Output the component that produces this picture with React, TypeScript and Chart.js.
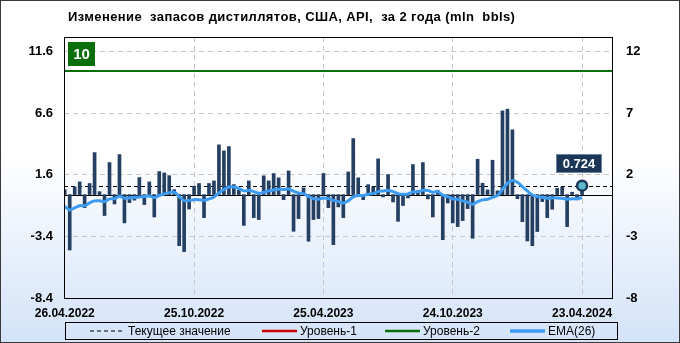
import React, { useEffect, useRef } from 'react';
import { Chart, registerables } from 'chart.js';

Chart.register(...registerables);

const TITLE = 'Изменение  запасов дистиллятов, США, API,  за 2 года (mln  bbls)';
const xTickIndex = [0, 26, 52, 78, 104];
const xTickLabels = ['26.04.2022', '25.10.2022', '25.04.2023', '24.10.2023', '23.04.2024'];
const yTicks = [-8.4, -3.4, 1.6, 6.6, 11.6];
const legendLabels = ['Текущее значение', 'Уровень-1', 'Уровень-2', 'EMA(26)'];

const changes = [
  0.4, -4.5, 0.62, 1.03, -1.06, 0.9, 3.41, 0.24, -1.7, 2.6,
  -0.76, 3.25, -2.3, -0.65, -0.45, 1.38, -0.81, 1.03, -1.82, 1.87,
  1.76, 1.54, 0.4, -4.15, -4.63, -1.17, 0.68, 0.9, -1.87, 0.9,
  1.11, 4.04, 3.55, 3.9, 0.81, 0.35, -2.5, 1.11, -1.87, -2.03,
  1.52, 1.11, 1.71, 1.36, -0.41, 1.92, -2.98, -1.95, 0.54, -3.79,
  -2.03, -1.95, 1.71, -1.06, -4.07, -1.0, -1.87, 1.84, 4.55, 1.36,
  -0.41, 0.81, 0.62, 2.9, -0.19, 1.63, -0.6, -2.17, -0.89, -0.27,
  2.44, 0.33, 2.6, -0.35, -1.82, 0.33, -3.66, -0.68, -2.3, -2.6,
  -2.11, -1.14, -3.55, 2.87, 0.92, 0.38, 2.79, 0.3, 6.8, 6.94,
  5.26, -0.33, -2.2, -3.77, -4.15, -3.0, -0.57, -1.87, -1.19, 0.51,
  0.6, -2.6, 0.19, -0.43, 0.724,
];

const ema26 = [
  -0.95, -1.25, -1.08, -0.9, -0.9, -0.68, -0.51, -0.51, -0.57, -0.35,
  -0.33, -0.14, -0.3, -0.27, -0.24, -0.19, -0.16, -0.11, -0.24, -0.08,
  0.05, 0.16, 0.19, -0.16, -0.49, -0.49, -0.41, -0.41, -0.46, -0.35,
  -0.19, 0.14, 0.41, 0.62, 0.62, 0.51, 0.3, 0.35, 0.24, 0.11,
  0.19, 0.3, 0.38, 0.43, 0.41, 0.46, 0.27, 0.14, 0.08, -0.14,
  -0.33, -0.38, -0.27, -0.33, -0.46, -0.57, -0.68, -0.51, -0.19, -0.08,
  -0.08, 0.03, 0.08, 0.24, 0.3, 0.33, 0.24, 0.08, 0.03, 0.05,
  0.22, 0.24, 0.35, 0.33, 0.19, 0.24, -0.05, -0.16, -0.35, -0.38,
  -0.51, -0.62, -0.79, -0.57, -0.43, -0.38, -0.22, -0.08, 0.43, 0.92,
  1.14, 1.0, 0.65, 0.3, -0.03, -0.16, -0.22, -0.3, -0.27, -0.27,
  -0.3, -0.38, -0.33, -0.33, -0.24,
];

const currentValue = 0.724;
const level2 = 10;

const BAR_COLOR = '#243f61';
const EMA_COLOR = '#3d9cf2';
const GREEN = '#0a6e0a';
const RED = '#cc0000';
const NAVY = '#1b3556';
const FONT = '"Liberation Sans", Arial, sans-serif';

const decorPlugin = {
  id: 'decor',
  beforeDraw(chart: any) {
    const { ctx, width, height } = chart;
    ctx.save();
    const g = ctx.createLinearGradient(0, 0, 0, height);
    g.addColorStop(0, '#ffffff');
    g.addColorStop(0.45, '#ffffff');
    g.addColorStop(1, '#d3e3f8');
    ctx.fillStyle = g;
    ctx.fillRect(0, 0, width, height);
    ctx.restore();
  },
  beforeDatasetsDraw(chart: any) {
    const { ctx, chartArea: a, scales } = chart;
    const y = scales.y;
    ctx.save();
    ctx.beginPath();
    ctx.rect(a.left, a.top, a.right - a.left, a.bottom - a.top);
    ctx.clip();
    const y0 = Math.round(y.getPixelForValue(0)) + 0.5;
    ctx.strokeStyle = '#000';
    ctx.lineWidth = 1;
    ctx.beginPath();
    ctx.moveTo(a.left, y0);
    ctx.lineTo(a.right, y0);
    ctx.stroke();
    const yc = Math.round(y.getPixelForValue(currentValue)) + 0.5;
    ctx.setLineDash([4, 3]);
    ctx.beginPath();
    ctx.moveTo(a.left, yc);
    ctx.lineTo(a.right, yc);
    ctx.stroke();
    ctx.setLineDash([]);
    const yl = Math.round(y.getPixelForValue(level2));
    ctx.strokeStyle = GREEN;
    ctx.lineWidth = 2;
    ctx.beginPath();
    ctx.moveTo(a.left, yl);
    ctx.lineTo(a.right, yl);
    ctx.stroke();
    ctx.restore();
  },
  afterDatasetsDraw(chart: any) {
    const { ctx, chartArea: a, scales } = chart;
    const last = changes.length - 1;
    const px = scales.x.getPixelForValue(last);
    const py = scales.y.getPixelForValue(currentValue);
    ctx.save();
    ctx.beginPath();
    ctx.arc(px, py, 5, 0, Math.PI * 2);
    ctx.fillStyle = '#5fb8c9';
    ctx.fill();
    ctx.lineWidth = 2.5;
    ctx.strokeStyle = NAVY;
    ctx.stroke();
    const bx = Math.round(px - 26), by = Math.round(py - 32);
    ctx.fillStyle = NAVY;
    ctx.fillRect(bx, by, 46, 19);
    ctx.strokeStyle = '#6f86a3';
    ctx.lineWidth = 1;
    ctx.strokeRect(bx + 0.5, by + 0.5, 45, 18);
    ctx.fillStyle = '#ffffff';
    ctx.font = 'bold 13px ' + FONT;
    ctx.textAlign = 'center';
    ctx.textBaseline = 'middle';
    ctx.fillText(String(currentValue), bx + 23, by + 10);
    ctx.fillStyle = GREEN;
    ctx.fillRect(a.left + 4, a.top + 5, 27, 24);
    ctx.fillStyle = '#ffffff';
    ctx.font = 'bold 15px ' + FONT;
    ctx.fillText(String(level2), a.left + 17.5, a.top + 17.5);
    ctx.restore();
  },
  afterDraw(chart: any) {
    const { ctx, chartArea: a, width, height } = chart;
    ctx.save();
    ctx.strokeStyle = '#000';
    ctx.lineWidth = 1;
    ctx.strokeRect(a.left + 0.5, a.top + 0.5, a.right - a.left - 1, a.bottom - a.top);
    ctx.fillStyle = '#000';
    ctx.font = 'bold 13px ' + FONT;
    ctx.textAlign = 'left';
    ctx.textBaseline = 'middle';
    (ctx as any).letterSpacing = '0.4px';
    ctx.fillText(TITLE, 68, 17);
    (ctx as any).letterSpacing = '0px';
    const lx = 65, ly = 322, lw = 552, lh = 17;
    ctx.strokeStyle = '#000';
    ctx.strokeRect(lx + 0.5, ly + 0.5, lw, lh);
    const cy = ly + 9;
    const items = [
      { x: 90, color: '#000', dash: [4, 3], w: 1.2 },
      { x: 262, color: RED, dash: [], w: 2.5 },
      { x: 385, color: GREEN, dash: [], w: 2.5 },
      { x: 510, color: EMA_COLOR, dash: [], w: 3.5 },
    ];
    ctx.font = '12px ' + FONT;
    items.forEach((it, i) => {
      ctx.strokeStyle = it.color;
      ctx.lineWidth = it.w;
      ctx.setLineDash(it.dash);
      ctx.beginPath();
      ctx.moveTo(it.x, cy);
      ctx.lineTo(it.x + 35, cy);
      ctx.stroke();
      ctx.setLineDash([]);
      ctx.fillStyle = '#000';
      ctx.fillText(legendLabels[i], it.x + 38, cy + 0.5);
    });
    ctx.strokeStyle = '#3a3a3a';
    ctx.lineWidth = 1;
    ctx.strokeRect(0.5, 0.5, width - 1, height - 1);
    ctx.restore();
  },
};

export default function App() {
  const ref = useRef<HTMLCanvasElement | null>(null);
  useEffect(() => {
    if (!ref.current) return;
    const gridColor = '#c6c6c6';
    const chart = new Chart(ref.current, {
      type: 'bar',
      data: {
        datasets: [
          {
            type: 'line',
            label: 'EMA(26)',
            data: ema26.map((v, i) => ({ x: i, y: v })),
            borderColor: EMA_COLOR,
            borderWidth: 3,
            pointRadius: 0,
            tension: 0.35,
            order: 1,
            xAxisID: 'x',
            yAxisID: 'y',
          } as any,
          {
            type: 'bar',
            label: 'change',
            data: changes.map((v, i) => ({ x: i, y: v })),
            backgroundColor: BAR_COLOR,
            barThickness: 3,
            grouped: false,
            order: 2,
            xAxisID: 'x',
            yAxisID: 'y',
          } as any,
        ],
      },
      options: {
        responsive: false,
        devicePixelRatio: 1,
        animation: false,
        layout: { padding: { top: 37, left: 0, right: 0, bottom: 0 } },
        plugins: { legend: { display: false }, tooltip: { enabled: false }, title: { display: false } },
        scales: {
          x: {
            type: 'linear',
            offset: false,
            min: -0.15,
            max: 110.22,
            afterBuildTicks: (s: any) => { s.ticks = xTickIndex.map((v) => ({ value: v })); },
            afterFit: (s: any) => { s.height = 45; },
            grid: { color: gridColor, drawTicks: false, offset: false },
            border: { display: false, dash: [5, 4] },
            ticks: {
              autoSkip: false,
              maxRotation: 0,
              padding: 8,
              color: '#000',
              font: { family: FONT, size: 12, weight: 'bold' },
              callback: (v: any) => xTickLabels[xTickIndex.indexOf(Number(v))] ?? '',
            },
          },
          y: {
            type: 'linear',
            position: 'left',
            min: -8.4,
            max: 12.8,
            afterBuildTicks: (s: any) => { s.ticks = yTicks.map((v) => ({ value: v })); },
            afterFit: (s: any) => { s.width = 64; },
            grid: { color: gridColor, drawTicks: false },
            border: { display: false, dash: [5, 4] },
            ticks: {
              padding: 11,
              color: '#000',
              font: { family: FONT, size: 13, weight: 'bold' },
              callback: (v: any) => Number(v).toFixed(1),
            },
          },
          y2: {
            type: 'linear',
            position: 'right',
            min: -8.4,
            max: 12.8,
            afterBuildTicks: (s: any) => { s.ticks = yTicks.map((v) => ({ value: v })); },
            afterFit: (s: any) => { s.width = 67; },
            grid: { display: false, drawTicks: false },
            border: { display: false },
            ticks: {
              padding: 13,
              color: '#000',
              font: { family: FONT, size: 13, weight: 'bold' },
              callback: (v: any) => String(Math.round(Number(v))),
            },
          },
        },
      } as any,
      plugins: [decorPlugin],
    });
    return () => chart.destroy();
  }, []);
  return (
    <div style={{ position: 'absolute', left: 0, top: 0, width: 680, height: 343 }}>
      <canvas ref={ref} width={680} height={343} style={{ display: 'block', width: 680, height: 343 }} />
    </div>
  );
}
